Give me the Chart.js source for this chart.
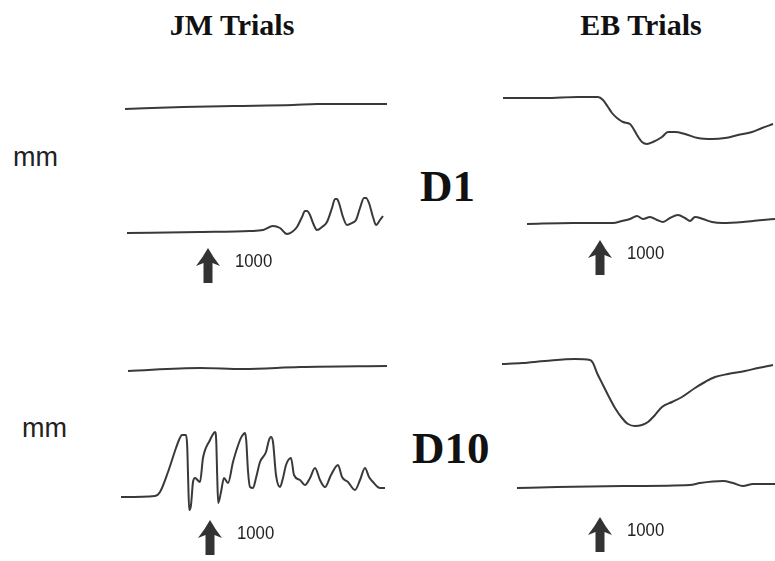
<!DOCTYPE html>
<html>
<head>
<meta charset="utf-8">
<script src="https://cdn.jsdelivr.net/npm/chart.js@4/dist/chart.umd.min.js"></script>
<style>
  html, body { margin: 0; padding: 0; background: #fff; }
  body { width: 775px; height: 561px; position: relative; overflow: hidden; }
  .lbl { position: absolute; white-space: nowrap; line-height: 1; color: #111; }
  .ttl { font: bold 30px "Liberation Serif", "Times New Roman", serif; transform: translateX(-50%); }
  .day { font: bold 45px "Liberation Serif", "Times New Roman", serif; }
  .unit { font: 27px "Liberation Sans", Arial, sans-serif; color: #222; }
  .panel { position: absolute; }
</style>
</head>
<body>
<div class="lbl ttl" style="left:232px; top:8px;">JM Trials</div>
<div class="lbl ttl" style="left:641px; top:8px;">EB Trials</div>
<div class="lbl unit" style="left:13px; top:142px;">mm</div>
<div class="lbl unit" style="left:22px; top:413px;">mm</div>
<div class="lbl day" style="left:420px; top:160px;">D1</div>
<div class="lbl day" style="left:412px; top:422px;">D10</div>

<canvas id="jmD1" class="panel" width="290" height="230" style="left:110px; top:60px;"></canvas>
<canvas id="ebD1" class="panel" width="285" height="230" style="left:490px; top:60px;"></canvas>
<canvas id="jmD10" class="panel" width="290" height="231" style="left:110px; top:330px;"></canvas>
<canvas id="ebD10" class="panel" width="285" height="231" style="left:490px; top:330px;"></canvas>

<script>
// Stimulus onset (ms), marked with an arrow in every panel
const stimulusTime = 1000;
const stimulusLabel = '1000';

// Each trace: sample times (ms) and deflection from its own baseline (mm, up = positive)

// JM trials, day 1
const jmD1UpperT = [170, 750, 1250, 1850, 2090, 2790];
const jmD1UpperV = [-0.4, -0.2, -0.1, 0, 0.1, 0.1];
const jmD1LowerT = [190, 920, 1420, 1550, 1650, 1720, 1790, 1840, 1890, 1940, 1970, 1990, 2020, 2050, 2090, 2140,
                    2190, 2240, 2270, 2290, 2310, 2350, 2390, 2440, 2480, 2520, 2560, 2580, 2610, 2650, 2680, 2720, 2750];
const jmD1LowerV = [0, 0.1, 0.2, 0.3, 0.7, 0.5, -0.1, 0.1, 0.6, 1.6, 2.2, 2.2, 1.8, 1.0, 0.3, 0.6,
                    1.1, 2.5, 3.4, 3.4, 3.0, 1.6, 0.8, 1.0, 1.3, 2.5, 3.5, 3.5, 3.0, 1.6, 0.8, 1.3, 1.7];

// EB trials, day 1
const ebD1UpperT = [30, 450, 780, 980, 1030, 1080, 1120, 1170, 1230, 1300, 1330, 1370, 1420, 1470, 1530,
                    1620, 1680, 1750, 1850, 1980, 2120, 2250, 2380, 2520, 2620, 2730];
const ebD1UpperV = [0, 0, 0.1, 0.1, -0.2, -0.9, -1.5, -2.0, -2.4, -2.6, -3.0, -3.7, -4.4, -4.6, -4.4,
                    -3.9, -3.4, -3.4, -3.6, -4.0, -4.1, -4.0, -3.7, -3.4, -3.0, -2.6];
const ebD1LowerT = [270, 730, 1130, 1220, 1300, 1370, 1430, 1500, 1570, 1630, 1700, 1780, 1850, 1900, 1950,
                    2030, 2120, 2230, 2430, 2630, 2750];
const ebD1LowerV = [-0.1, 0, 0, 0.2, 0.4, 0.7, 0.4, 0.6, 0.3, 0.1, 0.5, 0.8, 0.5, 0.2, 0.6,
                    0.4, 0.1, 0, 0.1, 0.3, 0.4];

// JM trials, day 10
const jmD10UpperT = [180, 900, 1330, 1900, 2770];
const jmD10UpperV = [-0.3, 0, -0.1, 0.1, 0.2];
const jmD10LowerT = [110, 450, 500, 580, 660, 690, 720, 760, 772, 782, 792, 810, 830, 850, 900, 930, 1000, 1020,
                     1050, 1062, 1072, 1082, 1110, 1140, 1180, 1230, 1300, 1320, 1350, 1362, 1380, 1400, 1430, 1460, 1500, 1560,
                     1590, 1610, 1630, 1660, 1700, 1730, 1760, 1810, 1840, 1900, 1950, 2000, 2050, 2100, 2150, 2210,
                     2280, 2320, 2380, 2450, 2500, 2550, 2590, 2630, 2700, 2750];
const jmD10LowerV = [-0.1, 0, 0.4, 2.4, 4.8, 5.6, 6.1, 6.1, 5.0, 1.5, -1.4, -0.9, 1.4, 1.8, 1.4, 3.8, 5.6, 6.0,
                     6.4, 5.6, 2.0, -0.7, 0.4, 1.8, 1.3, 3.4, 5.6, 6.0, 6.3, 5.6, 2.5, 0.9, 0.8, 1.8, 3.4, 4.4,
                     5.6, 5.9, 5.4, 2.1, 0.9, 1.8, 3.1, 3.8, 2.1, 1.6, 1.1, 1.8, 2.8, 1.6, 0.9, 2.1,
                     3.1, 1.9, 1.4, 0.6, 1.6, 2.8, 1.9, 1.4, 0.8, 0.8];

// EB trials, day 10
const ebD10UpperT = [20, 220, 450, 750, 900, 930, 970, 1020, 1080, 1150, 1220, 1280, 1350, 1420, 1480,
                     1550, 1620, 1720, 1820, 1950, 2050, 2150, 2280, 2450, 2580, 2730];
const ebD10UpperV = [-0.2, -0.1, 0.1, 0.3, 0.2, -0.1, -1.1, -2.1, -3.3, -4.6, -5.6, -6.2, -6.4, -6.3, -6.0,
                     -5.3, -4.5, -4.0, -3.5, -2.6, -2.0, -1.5, -1.2, -0.9, -0.6, -0.3];
const ebD10LowerT = [170, 570, 1230, 1900, 2000, 2230, 2330, 2430, 2530, 2750];
const ebD10LowerV = [-0.1, 0, 0.1, 0.2, 0.4, 0.6, 0.4, 0.1, 0.3, 0.3];

// Drawing scale shared by all panels
const PX_PER_MS = 0.1;
const PX_PER_MM = 10;
const TRACE_COLOR = 'rgba(40,40,40,0.92)';

// Panel layout: page position of the stimulus, each trace's baseline and the arrow tip
const panels = [
  { id: 'jmD1',  left: 110, top: 60,  width: 290, height: 230, stimPx: 208, upperBase: 105, lowerBase: 233, arrowTip: 248,
    upper: [jmD1UpperT, jmD1UpperV], lower: [jmD1LowerT, jmD1LowerV] },
  { id: 'ebD1',  left: 490, top: 60,  width: 285, height: 230, stimPx: 600, upperBase: 98,  lowerBase: 223, arrowTip: 240,
    upper: [ebD1UpperT, ebD1UpperV], lower: [ebD1LowerT, ebD1LowerV] },
  { id: 'jmD10', left: 110, top: 330, width: 290, height: 231, stimPx: 210, upperBase: 368, lowerBase: 496, arrowTip: 520,
    upper: [jmD10UpperT, jmD10UpperV], lower: [jmD10LowerT, jmD10LowerV] },
  { id: 'ebD10', left: 490, top: 330, width: 285, height: 231, stimPx: 600, upperBase: 362, lowerBase: 487, arrowTip: 517,
    upper: [ebD10UpperT, ebD10UpperV], lower: [ebD10LowerT, ebD10LowerV] }
];

const toPoints = ([t, v]) => t.map((x, i) => ({ x, y: v[i] }));

// Upward arrow at stimulus onset with its time label
const stimulusArrow = {
  id: 'stimulusArrow',
  afterDatasetsDraw(chart, args, opts) {
    const ctx = chart.ctx;
    const x = chart.scales.x.getPixelForValue(stimulusTime);
    const tip = opts.tipY;
    ctx.save();
    ctx.fillStyle = '#333';
    ctx.beginPath();
    ctx.moveTo(x, tip);
    ctx.quadraticCurveTo(x + 5, tip + 9, x + 12, tip + 18);
    ctx.lineTo(x + 4.5, tip + 15);
    ctx.lineTo(x + 4.5, tip + 35);
    ctx.lineTo(x - 4.5, tip + 35);
    ctx.lineTo(x - 4.5, tip + 15);
    ctx.lineTo(x - 12, tip + 18);
    ctx.quadraticCurveTo(x - 5, tip + 9, x, tip);
    ctx.closePath();
    ctx.fill();
    // condensed label beside the arrow
    ctx.fillStyle = '#222';
    ctx.font = '19px "Liberation Sans", Arial, sans-serif';
    ctx.textBaseline = 'middle';
    ctx.textAlign = 'left';
    ctx.translate(x + 27, tip + 14);
    ctx.scale(0.88, 1);
    ctx.fillText(stimulusLabel, 0, 0);
    ctx.restore();
  }
};

panels.forEach(p => {
  const xMin = stimulusTime - (p.stimPx - p.left) / PX_PER_MS;
  const xMax = xMin + p.width / PX_PER_MS;
  const upMax = (p.upperBase - p.top) / PX_PER_MM;
  const lowMax = (p.lowerBase - p.top) / PX_PER_MM;
  const span = p.height / PX_PER_MM;

  const traceStyle = {
    borderColor: TRACE_COLOR,
    borderWidth: 2,
    pointRadius: 0,
    fill: false,
    cubicInterpolationMode: 'monotone'
  };

  new Chart(document.getElementById(p.id), {
    type: 'line',
    data: {
      datasets: [
        Object.assign({ label: 'upper', data: toPoints(p.upper), yAxisID: 'yUp' }, traceStyle),
        Object.assign({ label: 'lower', data: toPoints(p.lower), yAxisID: 'yLow' }, traceStyle)
      ]
    },
    options: {
      responsive: false,
      animation: false,
      devicePixelRatio: 1,
      layout: { padding: 0 },
      plugins: {
        legend: { display: false },
        tooltip: { enabled: false },
        stimulusArrow: { tipY: p.arrowTip - p.top }
      },
      scales: {
        x: { type: 'linear', display: false, min: xMin, max: xMax },
        yUp: { type: 'linear', display: false, min: upMax - span, max: upMax },
        yLow: { type: 'linear', display: false, min: lowMax - span, max: lowMax }
      }
    },
    plugins: [stimulusArrow]
  });
});
</script>
</body>
</html>
